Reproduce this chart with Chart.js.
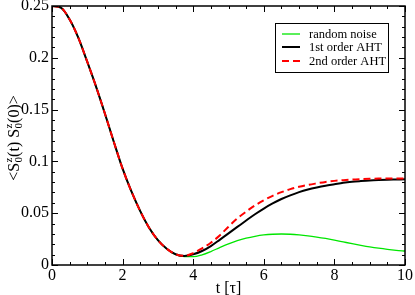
<!DOCTYPE html>
<html>
<head>
<meta charset="utf-8">
<script src="https://cdn.jsdelivr.net/npm/chart.js@4.4.0/dist/chart.umd.min.js"></script>
<style>
  html, body { margin: 0; padding: 0; background: #fff; }
</style>
</head>
<body>
<canvas id="myChart" width="415" height="295"></canvas>
<script>
const ctx = document.getElementById("myChart").getContext("2d");

// time axis, in units of tau
const times = [
  0, 0.25, 0.5, 0.75, 1, 1.25, 1.5, 1.75, 2, 2.25, 2.5, 2.75, 3, 3.25, 3.5, 3.75,
  4, 4.25, 4.5, 4.75, 5, 5.25, 5.5, 5.75, 6, 6.25, 6.5, 6.75, 7, 7.25, 7.5, 7.75,
  8, 8.25, 8.5, 8.75, 9, 9.25, 9.5, 9.75, 10
];

const randomNoise = [
  0.25, 0.2485, 0.237, 0.219, 0.196, 0.172, 0.146, 0.119, 0.093, 0.071, 0.052, 0.036, 0.024, 0.0155, 0.0103, 0.0082,
  0.0080, 0.0098, 0.0130, 0.0168, 0.0204, 0.0235, 0.0259, 0.0277, 0.0290, 0.0297, 0.0299, 0.0297, 0.0291, 0.0282, 0.0270, 0.0256,
  0.0240, 0.0223, 0.0206, 0.0190, 0.0175, 0.0162, 0.0151, 0.0142, 0.0135
];

const firstOrder = [
  0.25, 0.2485, 0.237, 0.219, 0.196, 0.172, 0.146, 0.119, 0.093, 0.071, 0.052, 0.036, 0.024, 0.0157, 0.0104, 0.0087,
  0.0103, 0.0135, 0.0183, 0.0243, 0.0305, 0.0368, 0.0430, 0.0490, 0.0545, 0.0594, 0.0637, 0.0672, 0.0703, 0.0728, 0.0748, 0.0765,
  0.0779, 0.0793, 0.0803, 0.0810, 0.0816, 0.0820, 0.0823, 0.0825, 0.0827
];

const secondOrder = [
  0.25, 0.2485, 0.237, 0.219, 0.196, 0.172, 0.146, 0.119, 0.093, 0.071, 0.052, 0.036, 0.024, 0.0157, 0.0104, 0.0088,
  0.0115, 0.0160, 0.0215, 0.0285, 0.0370, 0.0450, 0.0515, 0.0575, 0.0625, 0.0668, 0.0703, 0.0732, 0.0755, 0.0773, 0.0788, 0.0802,
  0.0812, 0.0819, 0.0825, 0.0829, 0.0832, 0.0834, 0.0835, 0.0836, 0.0836
];

const xTickLabels = [0, 2, 4, 6, 8, 10];
const yTickLabels = [0, 0.05, 0.1, 0.15, 0.2, 0.25];
const xMinorStep = 0.5;
const yMinorStep = 0.01;

const seriesNames = ["random noise", "1st order AHT", "2nd order AHT"];

const SERIF = '"Liberation Serif", "DejaVu Serif", serif';

function toPoints(values) {
  return values.map((v, i) => ({ x: times[i], y: v }));
}

// inward ticks on all four sides plus the frame
const frameTicks = {
  id: "frameTicks",
  afterDatasetsDraw(chart) {
    const { ctx, chartArea: a, scales: { x, y } } = chart;
    ctx.save();
    ctx.strokeStyle = "#000";
    ctx.lineWidth = 1;
    const seg = (x1, y1, x2, y2) => {
      ctx.beginPath();
      ctx.moveTo(x1, y1);
      ctx.lineTo(x2, y2);
      ctx.stroke();
    };
    const nx = Math.round((x.max - x.min) / xMinorStep);
    for (let i = 0; i <= nx; i++) {
      const t = x.min + i * xMinorStep;
      const major = xTickLabels.some(v => Math.abs(v - t) < 1e-6);
      const len = major ? 6 : 3;
      const px = Math.round(x.getPixelForValue(t)) + 0.5;
      seg(px, a.bottom, px, a.bottom - len);
      seg(px, a.top, px, a.top + len);
    }
    const ny = Math.round((y.max - y.min) / yMinorStep);
    for (let i = 0; i <= ny; i++) {
      const v = y.min + i * yMinorStep;
      const major = yTickLabels.some(w => Math.abs(w - v) < 1e-6);
      const len = major ? 6 : 3;
      const py = Math.round(y.getPixelForValue(v)) + 0.5;
      seg(a.left, py, a.left + len, py);
      seg(a.right, py, a.right - len, py);
    }
    ctx.lineWidth = 1.5;
    ctx.strokeRect(a.left, a.top, a.width, a.height);
    ctx.restore();
  }
};

// y axis title with stacked super/subscripts
const yTitle = {
  id: "yTitle",
  afterDraw(chart) {
    const ctx = chart.ctx;
    const big = "16px " + SERIF;
    const small = "11px " + SERIF;
    const parts = [["<S"], ["z", "0"], ["(t) S"], ["z", "0"], ["(0)>"]];
    ctx.save();
    let w = 0;
    parts.forEach(p => {
      if (p.length === 1) { ctx.font = big; w += ctx.measureText(p[0]).width; }
      else { ctx.font = small; w += Math.max(ctx.measureText(p[0]).width, ctx.measureText(p[1]).width) + 0.5; }
    });
    ctx.translate(19, 138);
    ctx.rotate(-Math.PI / 2);
    ctx.fillStyle = "#000";
    ctx.textBaseline = "alphabetic";
    let cx = -w / 2;
    parts.forEach(p => {
      if (p.length === 1) {
        ctx.font = big;
        ctx.fillText(p[0], cx, 0);
        cx += ctx.measureText(p[0]).width;
      } else {
        ctx.font = small;
        ctx.fillText(p[0], cx + 0.5, -7);
        ctx.fillText(p[1], cx + 0.5, 3);
        cx += Math.max(ctx.measureText(p[0]).width, ctx.measureText(p[1]).width) + 0.5;
      }
    });
    ctx.restore();
  }
};

// legend box inside the plot
const boxLegend = {
  id: "boxLegend",
  afterDraw(chart) {
    const ctx = chart.ctx;
    const rows = [34, 47, 61];
    ctx.save();
    ctx.fillStyle = "#fff";
    ctx.fillRect(275, 23, 113, 49);
    ctx.strokeStyle = "#000";
    ctx.lineWidth = 1;
    ctx.strokeRect(275.5, 23.5, 113, 49);
    ctx.font = "12.5px " + SERIF;
    ctx.textBaseline = "middle";
    chart.data.datasets.forEach((ds, i) => {
      const yy = rows[i];
      ctx.strokeStyle = ds.borderColor;
      ctx.lineWidth = ds.borderWidth;
      ctx.setLineDash(ds.borderDash || []);
      ctx.beginPath();
      ctx.moveTo(282, yy);
      ctx.lineTo(300, yy);
      ctx.stroke();
      ctx.setLineDash([]);
      ctx.fillStyle = "#000";
      ctx.fillText(ds.label, 309, yy + 0.5);
    });
    ctx.restore();
  }
};

const data = {
  datasets: [
    {
      label: seriesNames[0],
      data: toPoints(randomNoise),
      borderColor: "rgb(0,230,0)",
      borderWidth: 1.3,
      order: 3,
    },
    {
      label: seriesNames[1],
      data: toPoints(firstOrder),
      borderColor: "#000",
      borderWidth: 2,
      order: 2,
    },
    {
      label: seriesNames[2],
      data: toPoints(secondOrder),
      borderColor: "rgb(255,0,0)",
      borderWidth: 2,
      borderDash: [7, 4],
      order: 1,
    },
  ],
};

const config = {
  type: "line",
  data: data,
  options: {
    responsive: false,
    animation: false,
    devicePixelRatio: 1,
    layout: { padding: { left: 0, right: 10, top: 6, bottom: 0 } },
    elements: {
      point: { radius: 0 },
      line: { cubicInterpolationMode: "monotone", fill: false },
    },
    plugins: {
      legend: { display: false },
      tooltip: { enabled: false },
    },
    scales: {
      x: {
        type: "linear",
        min: 0,
        max: 10,
        grid: { display: false, drawTicks: false },
        border: { display: false },
        afterBuildTicks: (scale) => { scale.ticks = xTickLabels.map(v => ({ value: v })); },
        afterFit: (scale) => { scale.height = 30; scale.paddingLeft = 0; scale.paddingRight = 0; },
        ticks: {
          padding: 1,
          color: "#000",
          maxRotation: 0,
          autoSkip: false,
          font: { family: SERIF, size: 16 },
        },
        title: {
          display: true,
          text: "t [τ]",
          color: "#000",
          font: { family: SERIF, size: 16, lineHeight: 1 },
          padding: { top: 0, bottom: -2 },
        },
      },
      y: {
        min: 0,
        max: 0.25,
        grid: { display: false, drawTicks: false },
        border: { display: false },
        afterBuildTicks: (scale) => { scale.ticks = yTickLabels.map(v => ({ value: v })); },
        afterFit: (scale) => { scale.width = 52; scale.paddingTop = 0; scale.paddingBottom = 0; },
        ticks: {
          padding: 3,
          color: "#000",
          autoSkip: false,
          font: { family: SERIF, size: 16 },
          callback: (value) => String(value),
        },
      },
    },
  },
  plugins: [frameTicks, yTitle, boxLegend],
};

const myChart = new Chart(ctx, config);
</script>
</body>
</html>
